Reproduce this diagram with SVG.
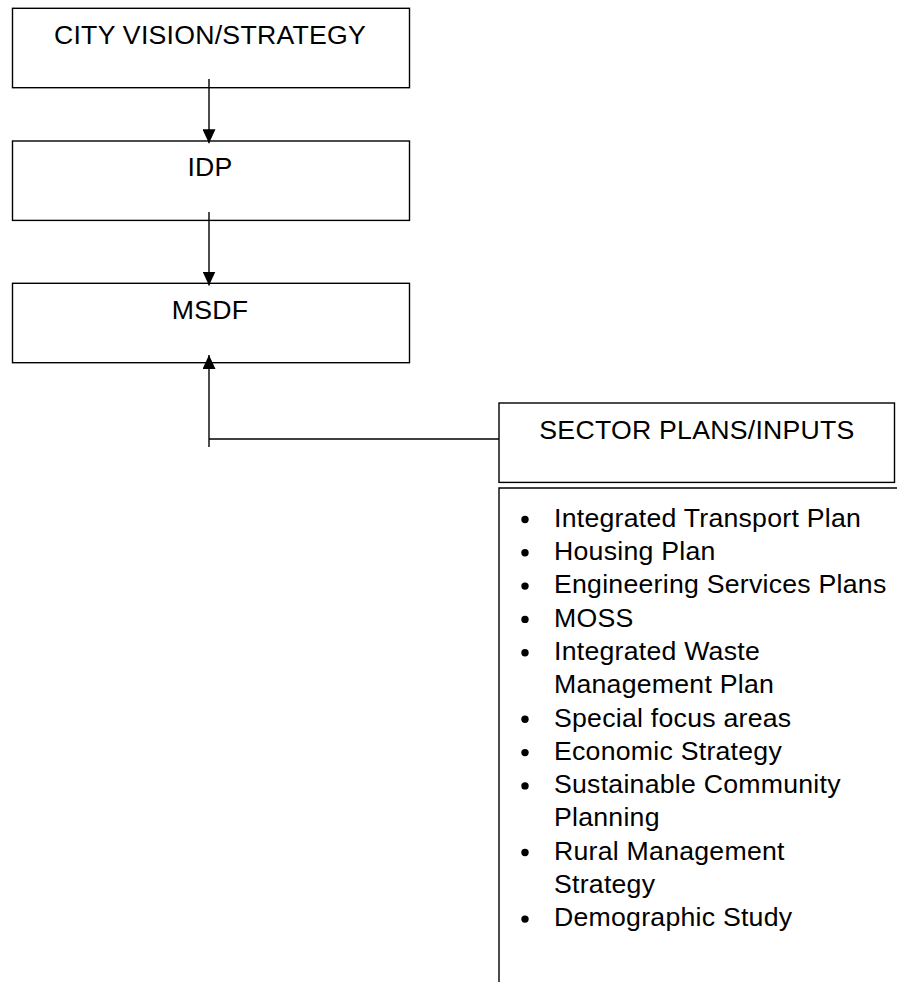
<svg xmlns="http://www.w3.org/2000/svg" width="897" height="982" viewBox="0 0 897 982">
<style>
.box{fill:#fff;stroke:#000;stroke-width:1.4}
.t{font-family:"Liberation Sans",Arial,sans-serif;font-size:26.67px;fill:#000;letter-spacing:0.25px}
.c{text-anchor:middle}
.ln{stroke:#000;stroke-width:1.4;fill:none}
</style>
<defs>
<marker id="ah" markerWidth="14" markerHeight="13" refX="14" refY="6.5" orient="auto" markerUnits="userSpaceOnUse" viewBox="0 0 14 13">
<path d="M0,0 L14,6.5 L0,13 Z" fill="#000"/>
</marker>
</defs>
<rect width="897" height="982" fill="#fff"/>
<g id="city-vision">
<rect class="box" x="12.5" y="8.3" width="397" height="79.4"/>
<text class="t c" x="210" y="43.5">CITY VISION/STRATEGY</text>
</g>
<g id="idp">
<rect class="box" x="12.5" y="141" width="397" height="79.4"/>
<text class="t c" x="210" y="176.3">IDP</text>
</g>
<g id="msdf">
<rect class="box" x="12.5" y="283.3" width="397" height="79.4"/>
<text class="t c" x="210" y="318.5">MSDF</text>
</g>
<g id="sector-plans">
<rect class="box" x="499" y="403" width="395.5" height="79.4"/>
<text class="t c" x="697" y="438.5">SECTOR PLANS/INPUTS</text>
</g>
<g id="sector-list">
<path class="ln" d="M499,982 V488 H897"/>
<g fill="#000">
<circle cx="525" cy="519.5" r="3.7"/>
<circle cx="525" cy="552.8" r="3.7"/>
<circle cx="525" cy="586.1" r="3.7"/>
<circle cx="525" cy="619.4" r="3.7"/>
<circle cx="525" cy="652.7" r="3.7"/>
<circle cx="525" cy="719.3" r="3.7"/>
<circle cx="525" cy="752.6" r="3.7"/>
<circle cx="525" cy="785.9" r="3.7"/>
<circle cx="525" cy="852.5" r="3.7"/>
<circle cx="525" cy="919.1" r="3.7"/>
</g>
<g class="t">
<text x="554" y="526.7">Integrated Transport Plan</text>
<text x="554" y="560">Housing Plan</text>
<text x="554" y="593.3">Engineering Services Plans</text>
<text x="554" y="626.6">MOSS</text>
<text x="554" y="659.9">Integrated Waste</text>
<text x="554" y="693.2">Management Plan</text>
<text x="554" y="726.5">Special focus areas</text>
<text x="554" y="759.8">Economic Strategy</text>
<text x="554" y="793.1">Sustainable Community</text>
<text x="554" y="826.4">Planning</text>
<text x="554" y="859.7">Rural Management</text>
<text x="554" y="893">Strategy</text>
<text x="554" y="926.3">Demographic Study</text>
</g>
</g>
<g id="connectors">
<line class="ln" x1="209" y1="79" x2="209" y2="143.3" marker-end="url(#ah)"/>
<line class="ln" x1="209" y1="212" x2="209" y2="285.5" marker-end="url(#ah)"/>
<line class="ln" x1="209" y1="447" x2="209" y2="355" marker-end="url(#ah)"/>
<line class="ln" x1="209" y1="439" x2="499" y2="439"/>
</g>
</svg>
